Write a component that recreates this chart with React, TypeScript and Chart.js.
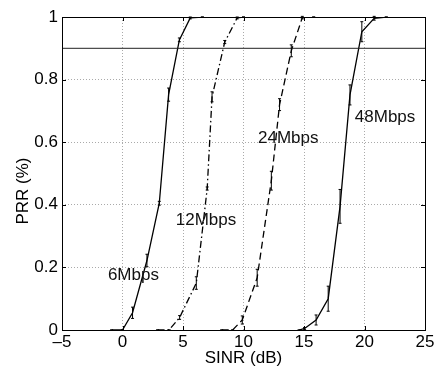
import { useEffect, useRef } from 'react';
import { Chart, registerables } from 'chart.js';

Chart.register(...registerables);

// ---- data ----
const X_6M = [-0.9, 0, 0.83, 2.02, 3.04, 3.81, 4.7, 5.6, 6.6];
const Y_6M = [0, 0, 0.055, 0.222, 0.405, 0.752, 0.927, 0.997, 1];
const E_6M = [0, 0, 0.018, 0.02, 0.006, 0.021, 0.006, 0.003, 0];

const X_12M = [2.9, 3.85, 4.72, 6.1, 7.0, 7.4, 8.45, 9.48, 10.0];
const Y_12M = [0, 0, 0.04, 0.15, 0.452, 0.745, 0.92, 0.997, 1];
const E_12M = [0, 0, 0.006, 0.02, 0.005, 0.016, 0.005, 0.003, 0];

const X_24M = [8.2, 9.1, 9.9, 11.13, 12.3, 12.98, 13.95, 14.86, 15.8];
const Y_24M = [0, 0, 0.032, 0.167, 0.477, 0.72, 0.892, 0.998, 1];
const E_24M = [0, 0, 0.013, 0.027, 0.03, 0.019, 0.019, 0.004, 0];

const X_48M = [14.6, 15.05, 16.0, 17.0, 17.98, 18.8, 19.78, 20.8, 21.8];
const Y_48M = [0, 0.005, 0.032, 0.1, 0.395, 0.751, 0.953, 0.996, 1];
const E_48M = [0, 0.003, 0.016, 0.04, 0.054, 0.032, 0.032, 0.006, 0];

const THRESHOLD = 0.9;
const X_RANGE = [-5, 25];
const Y_RANGE = [0, 1];
const X_TICKS = [-5, 0, 5, 10, 15, 20, 25];
const Y_TICKS = [0, 0.2, 0.4, 0.6, 0.8, 1];

const X_TITLE = 'SINR (dB)';
const Y_TITLE = 'PRR (%)';

const CURVE_NAMES = ['6Mbps', '12Mbps', '24Mbps', '48Mbps'];
const NAME_X = [0.9, 6.9, 13.7, 21.7];
const NAME_Y = [0.176, 0.351, 0.612, 0.679];

const FONT = '"Liberation Sans", Arial, Helvetica, sans-serif';

const toPts = (xs: number[], ys: number[]) => xs.map((x, i) => ({ x, y: ys[i] }));

const matlabPlugin = {
  id: 'matlabDecor',
  afterDatasetsDraw(chart: any) {
    const { ctx, scales } = chart;
    const xs = scales.x;
    const ys = scales.y;
    ctx.save();
    // error bars
    chart.data.datasets.forEach((ds: any) => {
      if (!ds.err) return;
      ctx.strokeStyle = '#000';
      ctx.lineWidth = 1;
      ctx.setLineDash([]);
      ds.data.forEach((p: any, i: number) => {
        const e = ds.err[i];
        const px = xs.getPixelForValue(p.x);
        const y1 = ys.getPixelForValue(p.y + e);
        const y2 = ys.getPixelForValue(p.y - e);
        ctx.beginPath();
        ctx.moveTo(px, y1);
        ctx.lineTo(px, y2);
        ctx.moveTo(px - 1.5, y1);
        ctx.lineTo(px + 1.5, y1);
        ctx.moveTo(px - 1.5, y2);
        ctx.lineTo(px + 1.5, y2);
        ctx.stroke();
      });
    });
    // curve names
    ctx.fillStyle = '#111';
    ctx.font = `17px ${FONT}`;
    ctx.textAlign = 'center';
    ctx.textBaseline = 'middle';
    CURVE_NAMES.forEach((n, i) => {
      ctx.fillText(n, xs.getPixelForValue(NAME_X[i]), ys.getPixelForValue(NAME_Y[i]));
    });
    ctx.restore();
  },
  afterDraw(chart: any) {
    const { ctx, chartArea: a, scales } = chart;
    ctx.save();
    ctx.strokeStyle = '#000';
    ctx.lineWidth = 1;
    ctx.setLineDash([]);
    ctx.strokeRect(Math.round(a.left) + 0.5, Math.round(a.top) + 0.5, Math.round(a.right - a.left), Math.round(a.bottom - a.top));
    const t = 4;
    ctx.beginPath();
    X_TICKS.forEach((v) => {
      const px = Math.round(scales.x.getPixelForValue(v)) + 0.5;
      ctx.moveTo(px, a.bottom);
      ctx.lineTo(px, a.bottom - t);
      ctx.moveTo(px, a.top);
      ctx.lineTo(px, a.top + t);
    });
    Y_TICKS.forEach((v) => {
      const py = Math.round(scales.y.getPixelForValue(v)) + 0.5;
      ctx.moveTo(a.left, py);
      ctx.lineTo(a.left + t, py);
      ctx.moveTo(a.right, py);
      ctx.lineTo(a.right - t, py);
    });
    ctx.stroke();
    // y axis title
    ctx.fillStyle = '#000';
    ctx.font = `17px ${FONT}`;
    ctx.textAlign = 'center';
    ctx.textBaseline = 'middle';
    ctx.translate(23, 191);
    ctx.rotate(-Math.PI / 2);
    ctx.fillText(Y_TITLE, 0, 0);
    ctx.restore();
  },
};

export default function App() {
  const ref = useRef<HTMLCanvasElement | null>(null);
  useEffect(() => {
    if (!ref.current) return;
    const curve = (label: string, xs: number[], ys: number[], es: number[], dash: number[]) => ({
      label,
      data: toPts(xs, ys),
      err: es,
      borderColor: '#000',
      borderWidth: 1.3,
      borderDash: dash,
      pointRadius: 0,
      fill: false,
      tension: 0,
    });
    const chart = new Chart(ref.current, {
      type: 'line',
      data: {
        datasets: [
          {
            label: 'threshold',
            data: [
              { x: X_RANGE[0], y: THRESHOLD },
              { x: X_RANGE[1], y: THRESHOLD },
            ],
            borderColor: '#222',
            borderWidth: 1,
            pointRadius: 0,
            fill: false,
          },
          curve(CURVE_NAMES[0], X_6M, Y_6M, E_6M, []),
          curve(CURVE_NAMES[1], X_12M, Y_12M, E_12M, [7, 3, 1.5, 3]),
          curve(CURVE_NAMES[2], X_24M, Y_24M, E_24M, [7, 4]),
          curve(CURVE_NAMES[3], X_48M, Y_48M, E_48M, []),
        ] as any,
      },
      options: {
        animation: false,
        responsive: false,
        devicePixelRatio: 1,
        layout: { padding: { left: 0, top: 17, right: 10, bottom: 0 } },
        plugins: { legend: { display: false }, tooltip: { enabled: false } },
        scales: {
          x: {
            type: 'linear',
            min: X_RANGE[0],
            max: X_RANGE[1],
            afterBuildTicks: (s: any) => {
              s.ticks = X_TICKS.map((v) => ({ value: v }));
            },
            afterFit: (s: any) => {
              s.height = 39;
              s.paddingLeft = 0;
              s.paddingRight = 0;
            },
            ticks: {
              color: '#000',
              font: { family: FONT, size: 17 },
              padding: 2,
              maxRotation: 0,
              callback: (v: any) => (Number(v) < 0 ? '\u2013' + Math.abs(Number(v)) : String(v)),
            },
            grid: { color: '#aaa', lineWidth: 1, drawTicks: false },
            border: { display: false, dash: [1, 2] },
            title: {
              display: true,
              text: X_TITLE,
              color: '#000',
              font: { family: FONT, size: 17 },
              padding: { top: 4, bottom: 0 },
            },
          },
          y: {
            type: 'linear',
            min: Y_RANGE[0],
            max: Y_RANGE[1],
            afterBuildTicks: (s: any) => {
              s.ticks = Y_TICKS.map((v) => ({ value: v }));
            },
            afterFit: (s: any) => {
              s.width = 62;
              s.paddingTop = 0;
              s.paddingBottom = 0;
            },
            ticks: {
              color: '#000',
              font: { family: FONT, size: 17 },
              padding: 4,
              callback: (v: any) => String(Math.round(Number(v) * 10) / 10),
            },
            grid: { color: '#aaa', lineWidth: 1, drawTicks: false },
            border: { display: false, dash: [1, 2] },
            title: { display: false },
          },
        },
      },
      plugins: [matlabPlugin],
    });
    return () => chart.destroy();
  }, []);
  return (
    <div style={{ position: 'fixed', left: 0, top: 0, width: 435, height: 369, background: '#fff' }}>
      <canvas ref={ref} width={435} height={369} />
    </div>
  );
}
